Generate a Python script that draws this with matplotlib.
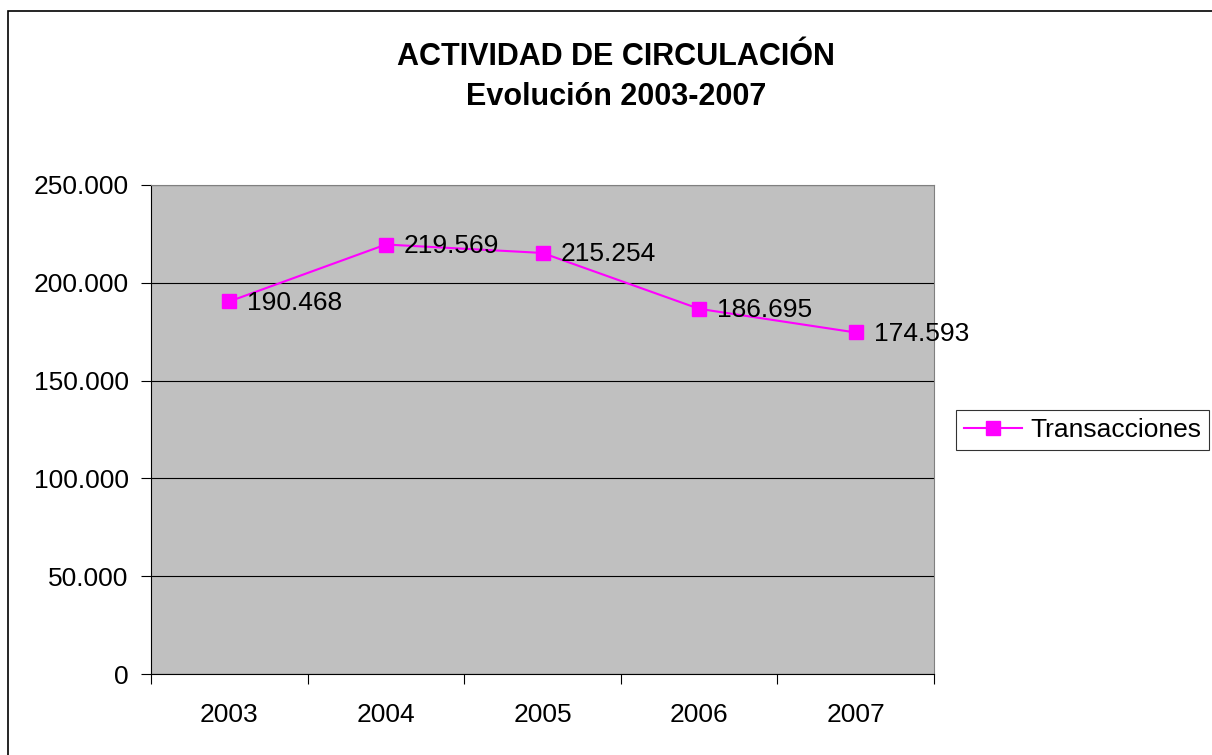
import matplotlib
matplotlib.use("Agg")
import matplotlib.pyplot as plt
from matplotlib.patches import Rectangle
from matplotlib.ticker import FuncFormatter

plt.rcParams['font.family'] = ['Liberation Sans', 'DejaVu Sans']

years = ['2003', '2004', '2005', '2006', '2007']
transacciones = [190468, 219569, 215254, 186695, 174593]
labels = ['190.468', '219.569', '215.254', '186.695', '174.593']

fig = plt.figure(figsize=(12.12, 7.55), dpi=100)
# outer chart border
fig.patches.append(Rectangle((8 / 1212, -0.1), 1.2, 1 - 11 / 755 + 0.1,
                             transform=fig.transFigure, fill=False,
                             edgecolor='black', linewidth=1.2))

ax = fig.add_axes([151 / 1212, 1 - 674 / 755, 783 / 1212, 489 / 755])
ax.set_facecolor('#C0C0C0')

x = range(len(years))
ax.plot(x, transacciones, color='#FF00FF', linewidth=1.5, marker='s',
        markersize=10, label='Transacciones', zorder=3)
for xi, yi, t in zip(x, transacciones, labels):
    ax.annotate(t, (xi, yi), xytext=(13, -1), textcoords='offset points',
                ha='left', va='center', fontsize=19, color='black')

ax.set_xlim(-0.5, len(years) - 0.5)
ax.set_ylim(0, 250000)
ax.set_yticks(range(0, 250001, 50000))
ax.yaxis.set_major_formatter(FuncFormatter(lambda v, p: '0' if v == 0 else f'{int(v):,}'.replace(',', '.')))
ax.grid(axis='y', color='black', linewidth=0.8)
ax.set_axisbelow(True)

ax.set_xticks([i - 0.5 for i in range(len(years) + 1)])
ax.set_xticklabels([])
ax.set_xticks(list(x), minor=True)
ax.set_xticklabels(years, minor=True, fontsize=19)
ax.tick_params(axis='x', which='minor', length=0, pad=21)
ax.tick_params(axis='x', which='major', length=7, direction='out', color='black')
ax.tick_params(axis='y', length=7, direction='out', labelsize=19, pad=9)

for s in ['top', 'right']:
    ax.spines[s].set_color('#808080')
for s in ['left', 'bottom']:
    ax.spines[s].set_color('black')

fig.text(616 / 1212, 1 - 57 / 755, 'ACTIVIDAD DE CIRCULACIÓN', ha='center', va='center',
         fontsize=22, fontweight='bold')
fig.text(616 / 1212, 1 - 97 / 755, 'Evolución 2003-2007', ha='center', va='center',
         fontsize=22, fontweight='bold')

leg = fig.legend(loc='center left', bbox_to_anchor=(956 / 1212, 1 - 430 / 755),
                 fontsize=19, frameon=True, fancybox=False, edgecolor='black',
                 borderpad=0.3, handlelength=2.2, handletextpad=0.3,
                 borderaxespad=0)
leg.get_frame().set_linewidth(0.8)

fig.savefig('out.png', dpi=100)
